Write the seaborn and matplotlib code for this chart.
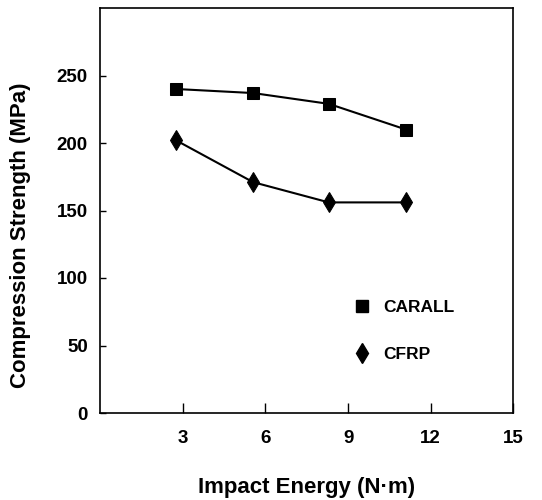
import matplotlib
matplotlib.use("Agg")
import matplotlib.pyplot as plt
import numpy as np
import pandas as pd
import seaborn as sns
from matplotlib.lines import Line2D

# values
impact_energy = [2.75, 5.55, 8.3, 11.1]
carall_strength = [240, 237, 229, 210]
cfrp_strength = [202, 171, 156, 156]
x_ticks = [3, 6, 9, 12, 15]
y_ticks = [0, 50, 100, 150, 200, 250]

sns.set_theme(style="white")
plt.rcParams['font.family'] = ['Liberation Sans', 'DejaVu Sans']
plt.rcParams['font.weight'] = 'bold'
plt.rcParams['text.color'] = 'black'
plt.rcParams['axes.labelcolor'] = 'black'

df_carall = pd.DataFrame({"energy": impact_energy, "strength": carall_strength})
df_cfrp = pd.DataFrame({"energy": impact_energy, "strength": cfrp_strength})

fig = plt.figure(figsize=(5.42, 5.0), dpi=100)
ax = fig.add_axes([0.185, 0.174, 0.762, 0.81])

sns.lineplot(data=df_carall, x="energy", y="strength", ax=ax, color="black",
             marker="s", markersize=8, linewidth=1.5, markeredgecolor="black")
sns.lineplot(data=df_cfrp, x="energy", y="strength", ax=ax, color="black",
             marker="d", markersize=10, linewidth=1.5, markeredgecolor="black")

ax.set_xlim(0, 15)
ax.set_ylim(0, 300)
ax.set_xticks(x_ticks)
ax.set_yticks(y_ticks)
ax.set_xticklabels([str(t) for t in x_ticks], fontsize=13.5, fontweight='bold')
ax.set_yticklabels([str(t) for t in y_ticks], fontsize=13.5, fontweight='bold')
ax.tick_params(axis='x', direction='in', length=7, width=1, pad=12, colors='black')
ax.tick_params(axis='y', direction='in', length=4, width=1, pad=9, colors='black')
ax.tick_params(bottom=True, left=True, top=False, right=False)

for sp in ax.spines.values():
    sp.set_color("black")
    sp.set_linewidth(1.2)

ax.set_xlabel("Impact Energy (N·m)", fontsize=16, fontweight='bold', labelpad=22)
ax.set_ylabel("Compression Strength (MPa)", fontsize=16, fontweight='bold')
ax.yaxis.set_label_coords(-0.168, 0.44)

handles = [
    Line2D([], [], color="black", marker="s", markersize=8, linestyle="none"),
    Line2D([], [], color="black", marker="d", markersize=10, linestyle="none"),
]
ax.legend(handles, ["CARALL", "CFRP"], loc="upper left", bbox_to_anchor=(0.612, 0.28),
          frameon=False, handlelength=1.0, handletextpad=0.75, labelspacing=1.85,
          borderpad=0, borderaxespad=0, labelcolor="black",
          prop={'weight': 'bold', 'size': 12.5})

fig.savefig("out.png", dpi=100)
